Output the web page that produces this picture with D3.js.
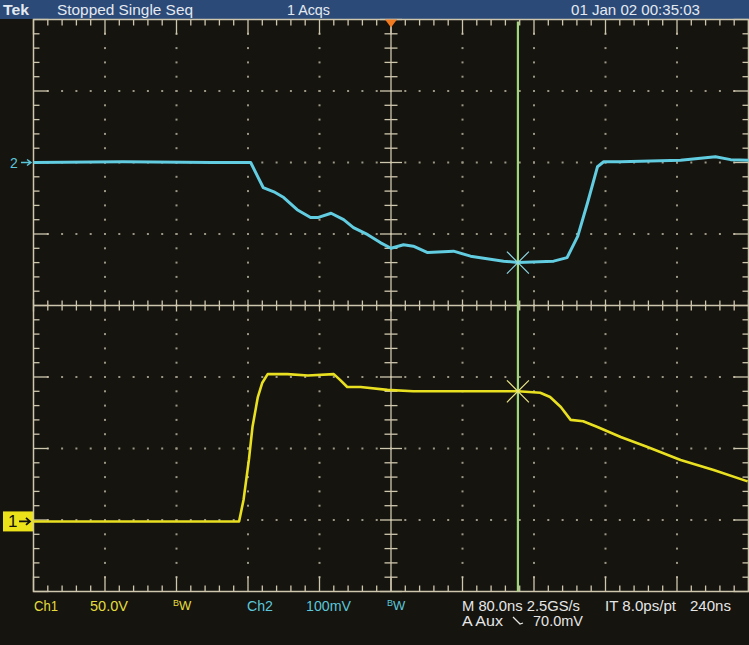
<!DOCTYPE html>
<html><head><meta charset="utf-8">
<script src="https://cdn.jsdelivr.net/npm/d3@7"></script>
<style>
html,body{margin:0;padding:0;background:#15140f;}
svg{display:block;}
text{font-family:"Liberation Sans Narrow","Arial Narrow","Liberation Sans",sans-serif;}
</style></head>
<body>
<svg id="c" width="749" height="645"></svg>
<script>
// ---- data (time in ns, Ch2 in mV, Ch1 in V) ----
const ch2Time = [-400,-300,-200,-157,-149,-143,-131,-120,-105,-90,-82,-67,-53,-42,-26,-12,0,14,25,41,70,89,126,142,182,197,209,220,231,238,257,324,363,380,400];
const ch2Values = [0,1,0,0,-20,-35,-41,-49,-66,-77,-77,-71,-80,-91,-101,-112,-120,-115,-117,-126,-124,-131,-138,-140,-138,-133,-103,-56,-6,1,1,3,8,4,3];
const ch1Time = [-400,-300,-200,-170,-165,-159,-155,-149,-144,-138,-116,-93,-64,-57,-49,-34,-4,25,100,142,167,178,190,201,215,231,257,287,324,361,399];
const ch1Values = [0,0,0,0,15,43,66,87,97,103,103,102,103,99,94,94,92,91,91,91,90,87,80,71,70,66,59,52,43,36,28];
const cursorTime = 142;
const ch2AtCursor = -140;
const ch1AtCursor = 91;

const topTexts = [
  {t:"Tek", x:3, w:26},
  {t:"Stopped  Single Seq", x:57, w:136},
  {t:"1 Acqs", x:287, w:43},
  {t:"01 Jan 02 00:35:03", x:571, w:129}
];
const bottomRow1 = [
  {t:"Ch1", x:34, w:24, c:"#e4dc3c"},
  {t:"50.0V", x:90, w:38, c:"#e4dc3c"},
  {t:"Ch2", x:247, w:26, c:"#5cc6da"},
  {t:"100mV", x:306, w:45, c:"#5cc6da"},
  {t:"M 80.0ns 2.5GS/s", x:462, w:118, c:"#e6e6e6"},
  {t:"IT 8.0ps/pt", x:605, w:71, c:"#e6e6e6"},
  {t:"240ns", x:690, w:41, c:"#e6e6e6"}
];
const bwLabels = [{x:173, c:"#e4dc3c"},{x:387, c:"#5cc6da"}];

// ---- scales ----
const L=33.5, R=748.5, T=19.5, B=591.5;
const x = d3.scaleLinear().domain([-400,400]).range([L,R]);
const yDiv = d3.scaleLinear().domain([-4,4]).range([B,T]);
const y2 = d3.scaleLinear().domain([(-4-2)*100,(4-2)*100]).range([B,T]);      // 100 mV/div, offset +2 div
const y1 = d3.scaleLinear().domain([(-4+3.02)*50,(4+3.02)*50]).range([B,T]);  // 50 V/div, offset -3.02 div

const svg = d3.select("#c");
svg.append("rect").attr("width",749).attr("height",645).attr("fill","#15140f");
// top bar
svg.append("rect").attr("x",0).attr("y",0).attr("width",749).attr("height",19).attr("fill","#2b4a78");
svg.selectAll("text.top").data(topTexts).enter().append("text")
  .attr("x",d=>d.x).attr("y",14.5).attr("fill","#e4e9f0").attr("font-size",14.5).attr("font-weight",d=>d.t==="Tek"?"bold":"normal")
  .attr("textLength",d=>d.w).attr("lengthAdjust","spacingAndGlyphs")
  .text(d=>d.t);

const g = svg.append("g");
const gridCol = "#cfc6ae";
const dotCol = "#9c9684";

// grid dots along major lines
const majorX = d3.range(-400,401,80);
const majorY = d3.range(-4,5,1);
const minorX = d3.range(-400,400.01,16);
const minorY = d3.range(-4,4.001,0.2);
majorX.filter(v=>v!==0 && Math.abs(v)!==400).forEach(mx=>{
  g.selectAll(null).data(minorY.filter(v=>Math.abs(v)<3.99)).enter().append("rect")
    .attr("x",x(mx)-1).attr("y",d=>yDiv(d)-1).attr("width",2).attr("height",2).attr("fill",dotCol);
});
majorY.filter(v=>v!==0 && Math.abs(v)!==4).forEach(my=>{
  g.selectAll(null).data(minorX.filter(v=>Math.abs(v)<399)).enter().append("rect")
    .attr("x",d=>x(d)-1).attr("y",yDiv(my)-1).attr("width",2).attr("height",2).attr("fill",dotCol);
});
// center lines
g.append("line").attr("x1",L).attr("x2",R).attr("y1",yDiv(0)).attr("y2",yDiv(0)).attr("stroke",gridCol).attr("stroke-width",1.3);
g.append("line").attr("x1",x(0)).attr("x2",x(0)).attr("y1",T).attr("y2",B).attr("stroke",gridCol).attr("stroke-width",1.3);
minorX.forEach(v=>{
  const isMaj = Math.abs(v/80 - Math.round(v/80))<1e-6;
  const h = isMaj?6:5;
  g.append("line").attr("x1",x(v)).attr("x2",x(v)).attr("y1",yDiv(0)-h).attr("y2",yDiv(0)+h).attr("stroke",gridCol).attr("stroke-width",1.3);
  const bl = isMaj?15:6;
  g.append("line").attr("x1",x(v)).attr("x2",x(v)).attr("y1",T).attr("y2",T+bl).attr("stroke",gridCol).attr("stroke-width",1.3);
  g.append("line").attr("x1",x(v)).attr("x2",x(v)).attr("y1",B).attr("y2",B-bl).attr("stroke",gridCol).attr("stroke-width",1.3);
});
minorY.forEach(v=>{
  const isMaj = Math.abs(v - Math.round(v))<1e-6;
  const w = isMaj?11:6.5;
  g.append("line").attr("x1",x(0)-w).attr("x2",x(0)+w).attr("y1",yDiv(v)).attr("y2",yDiv(v)).attr("stroke",gridCol).attr("stroke-width",1.3);
  const bl = isMaj?15:6;
  g.append("line").attr("x1",L).attr("x2",L+bl).attr("y1",yDiv(v)).attr("y2",yDiv(v)).attr("stroke",gridCol).attr("stroke-width",1.3);
  g.append("line").attr("x1",R).attr("x2",R-bl).attr("y1",yDiv(v)).attr("y2",yDiv(v)).attr("stroke",gridCol).attr("stroke-width",1.3);
});
g.append("rect").attr("x",L).attr("y",T).attr("width",R-L).attr("height",B-T).attr("fill","none").attr("stroke",gridCol).attr("stroke-width",1.5);

// trigger marker
svg.append("path").attr("d",`M${x(0)-6},${T} L${x(0)+6},${T} L${x(0)},${T+8} Z`).attr("fill","#f07a20");

// traces
const line2 = d3.line().x((d,i)=>x(ch2Time[i])).y(d=>y2(d));
const line1 = d3.line().x((d,i)=>x(ch1Time[i])).y(d=>y1(d));
svg.append("path").attr("d",line2(ch2Values)).attr("fill","none").attr("stroke","#62cce0").attr("stroke-width",3).attr("stroke-linejoin","round");
svg.append("path").attr("d",line1(ch1Values)).attr("fill","none").attr("stroke","#e8e020").attr("stroke-width",2.6).attr("stroke-linejoin","round");

// cursor
svg.append("line").attr("x1",x(cursorTime)).attr("x2",x(cursorTime)).attr("y1",T+2).attr("y2",B).attr("stroke","#9ed77a").attr("stroke-width",2.2);
function xMark(cx,cy,col){
  const s=11;
  svg.append("line").attr("x1",cx-s).attr("y1",cy-s).attr("x2",cx+s).attr("y2",cy+s).attr("stroke",col).attr("stroke-width",1.2);
  svg.append("line").attr("x1",cx-s).attr("y1",cy+s).attr("x2",cx+s).attr("y2",cy-s).attr("stroke",col).attr("stroke-width",1.2);
}
xMark(x(cursorTime),y2(ch2AtCursor),"#8fdbe6");
xMark(x(cursorTime),y1(ch1AtCursor),"#eee88a");

// channel markers
svg.append("text").attr("x",10).attr("y",y2(0)+5).attr("fill","#5cc6da").attr("font-size",14).text("2");
svg.append("path").attr("d",`M21,${y2(0)} L31,${y2(0)} M27,${y2(0)-3} L31,${y2(0)} L27,${y2(0)+3}`).attr("stroke","#5cc6da").attr("stroke-width",1.5).attr("fill","none");
svg.append("rect").attr("x",3).attr("y",y1(0)-10).attr("width",30).attr("height",20).attr("fill","#ece21a");
svg.append("text").attr("x",8).attr("y",y1(0)+6).attr("fill","#111").attr("font-size",17).text("1");
svg.append("path").attr("d",`M19,${y1(0)} L30,${y1(0)} M26,${y1(0)-3.5} L30,${y1(0)} L26,${y1(0)+3.5}`).attr("stroke","#111").attr("stroke-width",1.8).attr("fill","none");

// bottom readouts
svg.selectAll("text.b1").data(bottomRow1).enter().append("text")
  .attr("x",d=>d.x).attr("y",611).attr("fill",d=>d.c).attr("font-size",14.5)
  .attr("textLength",d=>d.w).attr("lengthAdjust","spacingAndGlyphs").text(d=>d.t);
bwLabels.forEach(b=>{
  const t = svg.append("text").attr("x",b.x).attr("y",609).attr("fill",b.c).attr("font-size",14);
  t.append("tspan").attr("font-size",9).attr("dy",-3).text("B");
  t.append("tspan").attr("font-size",13).attr("dy",4).text("W");
});
svg.append("text").attr("x",462).attr("y",626).attr("fill","#e6e6e6").attr("font-size",14.5)
  .attr("textLength",41).attr("lengthAdjust","spacingAndGlyphs").text("A  Aux");
svg.append("path").attr("d","M513,617 L520,624 L523,623").attr("stroke","#e6e6e6").attr("stroke-width",1.3).attr("fill","none");
svg.append("text").attr("x",533).attr("y",626).attr("fill","#e6e6e6").attr("font-size",14.5)
  .attr("textLength",50).attr("lengthAdjust","spacingAndGlyphs").text("70.0mV");
</script>
</body></html>
